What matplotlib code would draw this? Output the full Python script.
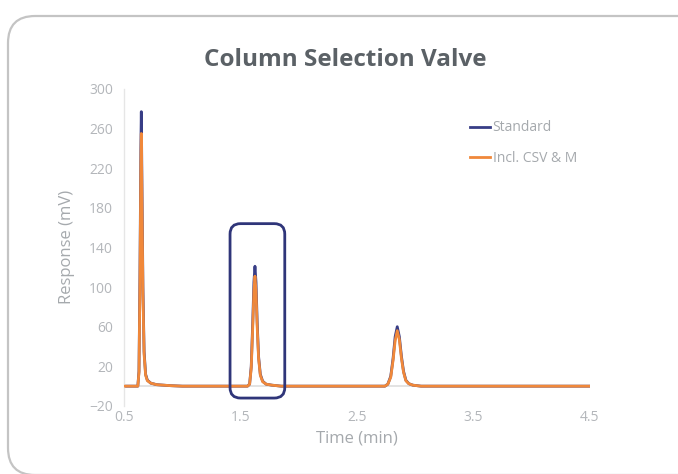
import numpy as np
import matplotlib.pyplot as plt
from matplotlib.patches import FancyBboxPatch

# Chromatogram points (time in min, response in mV)
time = [0.50, 0.600, 0.618, 0.628, 0.636, 0.644, 0.648, 0.654, 0.662, 0.672, 0.685, 0.700, 0.730, 0.780, 0.900, 1.000,
        1.560, 1.578, 1.592, 1.605, 1.615, 1.624, 1.633, 1.643, 1.655, 1.670, 1.690, 1.720, 1.770, 1.850,
        2.740, 2.765, 2.790, 2.810, 2.828, 2.846, 2.864, 2.882, 2.900, 2.920, 2.945, 2.980, 3.050, 4.500]

standard = [0, 0, 0, 15, 110, 240, 277, 200, 100, 35, 12, 6, 3, 1.5, 0.5, 0,
            0, 2, 20, 65, 105, 121, 105, 65, 30, 12, 5, 2, 1, 0,
            0, 2, 10, 28, 50, 60, 50, 30, 15, 6, 2.5, 1, 0, 0]

incl_csv = [0, 0, 0, 14, 102, 222, 255, 185, 92, 32, 11, 5.5, 3, 1.5, 0.5, 0,
            0, 2, 18, 60, 96, 111, 96, 60, 28, 11, 4.5, 2, 1, 0,
            0, 2, 9, 26, 46, 56, 47, 28, 14, 5.5, 2.5, 1, 0, 0]

labels = ["Standard", "Incl. CSV & M"]
colors = ["#383d86", "#f0883a"]

xticks = [0.5, 1.5, 2.5, 3.5, 4.5]
yticks = [-20, 20, 60, 100, 140, 180, 220, 260, 300]

# highlighted region around the second peak
box_x = (1.41, 1.88)
box_y = (-12, 164)

plt.rcParams['font.family'] = ['Open Sans', 'DejaVu Sans']

fig = plt.figure(figsize=(6.78, 4.74), dpi=100)
ax = fig.add_axes([0.183, 0.1435, 0.687, 0.669])

# rounded card border (runs off the right and bottom edges)
card = FancyBboxPatch((8 / 678, -1 / 474), 1.2, (458 + 1) / 474,
                      boxstyle="round,pad=0,rounding_size=0.04",
                      mutation_aspect=678 / 474,
                      transform=fig.transFigure, facecolor="white",
                      edgecolor="#c4c4c4", linewidth=1.6, zorder=-10)
fig.patches.append(card)

ax.axhline(0, color="#dedede", linewidth=1.2, zorder=1)
ax.plot(time, standard, color=colors[0], linewidth=2.0, label=labels[0], zorder=2)
ax.plot(time, incl_csv, color=colors[1], linewidth=2.0, label=labels[1], zorder=3)

# highlight box (rounded, in data units with aspect correction)
px_x = 466 / 4.0
px_y = 317 / 320.0
aspect = px_x / px_y
rect = FancyBboxPatch((box_x[0], box_y[0]), box_x[1] - box_x[0], box_y[1] - box_y[0],
                      boxstyle="round,pad=0,rounding_size=0.09",
                      mutation_aspect=aspect, facecolor="none",
                      edgecolor="#2f3579", linewidth=2.0, zorder=4)
ax.add_patch(rect)

ax.set_xlim(0.5, 4.5)
ax.set_ylim(-20, 300)
ax.set_xticks(xticks)
ax.set_xticklabels([str(v) for v in xticks])
ax.set_yticks(yticks)
ax.tick_params(length=0, colors="#b3b6ba", labelsize=10)
ax.tick_params(axis='y', pad=8)
ax.tick_params(axis='x', pad=3)

for s in ["top", "right", "bottom"]:
    ax.spines[s].set_visible(False)
ax.spines["left"].set_color("#e6e6e6")
ax.spines["left"].set_linewidth(1.0)

ax.set_xlabel("Time (min)", color="#a5a9ad", fontsize=12, labelpad=4)
ax.set_ylabel("Response (mV)", color="#a5a9ad", fontsize=12, labelpad=10)

fig.text(0.509, 0.873, "Column Selection Valve", ha="center", va="center",
         fontsize=17.5, fontweight="bold", color="#5b6166")

leg = ax.legend(loc="upper left", bbox_to_anchor=(0.715, 0.94), frameon=False,
                handlelength=1.5, handletextpad=0.15, labelspacing=1.1,
                fontsize=10)
for t in leg.get_texts():
    t.set_color("#a5a9ad")

fig.savefig("out.png", dpi=100)
